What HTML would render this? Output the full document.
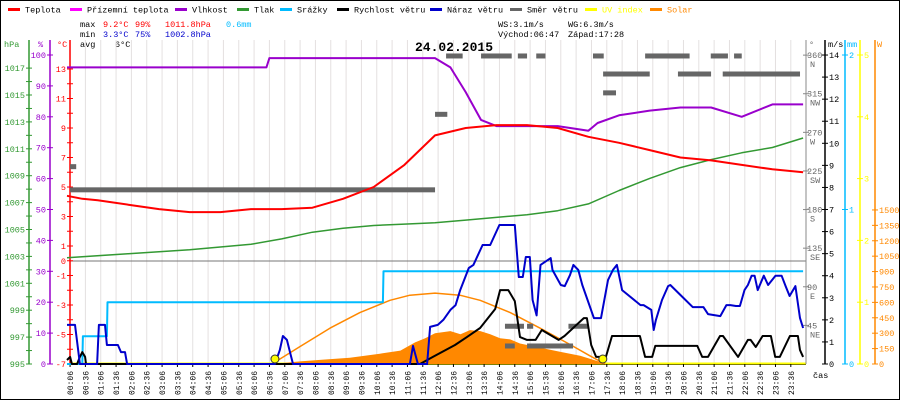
<!DOCTYPE html>
<html><head><meta charset="utf-8"><style>
body{margin:0;background:#fff}
svg{display:block;font-family:"Liberation Mono",monospace;font-size:8.5px}
</style></head><body>
<svg id="c" width="900" height="400" viewBox="0 0 900 400">
<rect x="0.5" y="0.5" width="899" height="399" fill="#fff" stroke="#000"/>
<g id="legend"></g>
<g>
<text x="80" y="27">max</text><text x="103" y="27" fill="#f00">9.2°C</text><text x="135" y="27" fill="#f00">99%</text><text x="165" y="27" fill="#f00">1011.8hPa</text><text x="226" y="27" fill="#0bf">0.6mm</text>
<text x="80" y="37">min</text><text x="103" y="37" fill="#00c">3.3°C</text><text x="135" y="37" fill="#00c">75%</text><text x="165" y="37" fill="#00c">1002.8hPa</text>
<text x="80" y="47">avg</text><text x="115" y="47">6°C</text>
<text x="498" y="27">WS:3.1m/s</text><text x="568" y="27">WG:6.3m/s</text>
<text x="498" y="37">Východ:06:47</text><text x="568" y="37">Západ:17:28</text>
</g>
<text x="415" y="51" font-size="13" font-weight="bold">24.02.2015</text>
<g id="grid"></g><g id="axes"></g><g id="series"></g>
</svg>
<script>
const NS="http://www.w3.org/2000/svg";
const svg=document.getElementById('c');
function mk(tag,attrs,parent){const e=document.createElementNS(NS,tag);for(const k in attrs)e.setAttribute(k,attrs[k]);(parent||svg).appendChild(e);return e;}
// ---- data (hours of day) ----
const tempH=[0,0.5,1,2,3,4,5,6,7,8,9,10,11,12,13,14,15,16,17,18,19,20,21,22,23,24];
const tempV=[4.4,4.2,4.1,3.8,3.5,3.3,3.3,3.5,3.5,3.6,4.2,5.0,6.5,8.5,9.0,9.2,9.2,9.0,8.4,8.0,7.5,7.0,6.8,6.5,6.2,6.0];
const humH=[0,6.5,6.6,12,12.5,13,13.5,14,15,16,17,17.3,18,19,20,21,22,23,24];
const humV=[96,96,99,99,96,88,79,77,77,77,75.5,78,80.5,82,83,83,80,84,84];
const presH=[0,2,4,6,7,8,9,10,11,12,13,14,15,16,17,18,19,20,21,22,23,24];
const presV=[1002.9,1003.2,1003.5,1003.9,1004.3,1004.8,1005.1,1005.3,1005.4,1005.5,1005.7,1005.9,1006.1,1006.4,1006.9,1007.9,1008.8,1009.6,1010.2,1010.7,1011.1,1011.8];
const rainH=[0,0.5,0.52,1.3,1.32,10.3,10.32,24];
const rainV=[0,0,0.18,0.18,0.4,0.4,0.6,0.6];
const gustH=[0,0.26,0.42,0.98,1.04,1.24,1.30,1.66,1.76,1.89,1.96,6.78,6.94,7.04,7.17,7.37,11.18,11.28,11.44,11.74,11.84,12.09,12.27,12.5,12.67,12.82,13.1,13.25,13.55,13.8,14.1,14.6,14.73,14.86,14.96,15.09,15.18,15.31,15.44,15.77,15.83,16.1,16.23,16.4,16.51,16.67,16.8,17.18,17.41,17.64,17.8,17.93,18.1,18.7,18.8,19.05,19.13,19.2,19.4,19.6,19.67,20.1,20.4,20.75,20.9,21.3,21.5,21.63,21.81,21.94,22.09,22.2,22.32,22.42,22.52,22.72,22.86,23.1,23.3,23.43,23.56,23.75,23.9,24];
const gustV=[1.77,1.77,0,0,1.77,1.77,0.86,0.86,0.54,0.54,0,0,0.63,1.27,1.09,0,0,0.82,0,0,1.68,1.77,2.0,2.45,2.67,3.35,4.35,4.49,5.39,5.39,6.3,6.3,3.94,3.94,4.85,4.85,2.9,2.2,4.49,4.8,4.26,3.58,3.53,4.03,4.49,4.26,3.58,2.08,2.08,3.8,4.26,4.49,3.35,2.67,2.67,2.45,1.54,2.0,2.9,3.53,3.58,2.99,2.58,2.58,2.26,2.17,2.67,2.67,2.63,2.63,3.35,3.58,4.0,4.0,3.35,4.0,3.58,4.0,4.0,3.53,3.08,3.53,2.08,1.63];
const windH=[0,0.1,0.16,0.33,0.42,0.5,0.59,0.62,11.51,11.93,12.65,13.04,13.47,13.96,14.12,14.39,14.6,14.77,15.0,15.28,15.48,16.03,16.22,16.85,16.95,17.09,17.25,17.57,17.77,18.68,18.85,19.08,19.18,20.55,20.71,20.9,21.29,21.39,21.88,22.2,22.29,22.46,22.68,22.95,23.09,23.24,23.57,23.83,23.9,24];
const windV=[0.18,0.32,0,0,0.32,0.54,0.32,0,0,0.32,0.86,1.22,1.63,2.49,3.35,3.35,2.85,1.22,1.09,1.09,1.54,1.09,1.27,2.08,2.08,0.86,0.32,0.32,1.27,1.27,0.32,0.32,0.82,0.82,0.32,0.32,1.27,1.27,0.32,1.09,1.09,0.77,1.27,1.27,0.32,0.32,1.27,1.27,0.63,0.32];
const solarH=[6.68,7.6,8.25,9.22,10.2,10.87,11.35,11.68,12.0,12.5,12.83,13.14,13.48,13.8,14.12,14.45,14.77,15.42,16.07,16.73,17.38,17.54];
const solarV=[0,25,40,60,100,130,210,250,300,320,290,330,320,290,250,240,200,160,120,80,20,0];
const theoH=[6.68,7.6,8.58,9.55,10.53,11.18,12.0,12.81,13.47,14.45,15.42,16.4,17.05,17.54];
const theoV=[0,170,350,500,620,670,690,670,620,500,350,190,80,0];
const dirStart=[0.1,0.1,12.0,12.36,13.5,14.7,15.3,17.15,18.85,19.1,20.99,21.75,17.48,19.92,21.38,22.2,17.48,14.28,14.63,14.28,15.0,15.0,16.35];
const dirEnd=[0.3,12.0,12.4,12.9,14.5,15.0,15.6,17.5,20.0,20.3,21.55,22.0,19.0,21.0,22.75,23.9,17.9,14.7,14.9,14.6,16.5,15.2,17.0];
const dirV=[230,203,291,359,359,359,359,359,359,359,359,359,338,338,338,338,316,44,44,21,21,44,44];
const timeLabels=[];for(let h=0;h<24;h++){for(const m of ['06','36'])timeLabels.push((h<10?'0':'')+h+':'+m);}
// ---- scales ----
const X=h=>67+h*30.67;
const yT=t=>364-(t+7)*14.75, yH=v=>364-v*3.09, yP=p=>364-(p-995)*13.45, yMS=v=>364-v*22.07, yMM=v=>364-v*154.5, yUV=v=>364-v*61.8, yW=v=>364-v*0.1027, yDeg=v=>364-v*0.858;
const G=document.getElementById('grid'),A=document.getElementById('axes'),S=document.getElementById('series');
// legend
const leg=[['Teplota','#f00',8,'#000'],['Přízemní teplota','#f0f',70,'#000'],['Vlhkost','#90c',175,'#000'],['Tlak','#393',237,'#000'],['Srážky','#0bf',280,'#000'],['Rychlost větru','#000',337,'#000'],['Náraz větru','#00c',430,'#000'],['Směr větru','#666',510,'#000'],['UV index','#ff0',585,'#ff0'],['Solar','#f80',650,'#f80']];
leg.forEach(l=>{const g=mk('g',{},document.getElementById('legend'));


mk('rect',{x:l[2],y:8,width:12,height:3,fill:l[1]},g);mk('text',{x:l[2]+17,y:12.5,fill:l[3]},g).textContent=l[0];});
// grid + time labels
timeLabels.forEach((t,i)=>{const x=X(0.1+i*0.5);
const gl=mk('line',{x1:x,x2:x,y1:40,y2:364,stroke:'#e4e0e0'},G);

mk('line',{x1:x,x2:x,y1:364,y2:367,stroke:'#000'},A);
const tx=mk('text',{transform:`translate(${x+3},395) rotate(-90)`,'font-size':8},A);tx.textContent=t;
});
mk('line',{x1:70,x2:806,y1:261,y2:261,stroke:'#777'},G);
mk('line',{x1:70,x2:806,y1:364.5,y2:364.5,stroke:'#000'},G);
mk('line',{x1:70,x2:806,y1:363.5,y2:363.5,stroke:'#ff0','stroke-width':2},G);
// axes
function axis(x,y0,y1,col,ticks,yf,side,hdr,hx){mk('line',{x1:x,x2:x,y1:y0,y2:y1,stroke:col,'stroke-width':1.5},A);
ticks.forEach(t=>{const y=yf(t[0]);mk('line',{x1:x-3,x2:x+3,y1:y,y2:y,stroke:col},A);
if(t[1]!==''){const e=mk('text',{x:side<0?x-4:x+4,y:y+3,fill:col,'text-anchor':side<0?'end':'start'},A);e.textContent=t[1];}});
if(hdr){const h=mk('text',{x:hx,y:47,fill:col},A);h.textContent=hdr;}}
let tk=[];for(let p=995;p<=1017;p++)tk.push([p,p%2?String(p):'']);axis(29,40,364,'#393',tk,yP,-1,'hPa',4);
tk=[];for(let v=0;v<=100;v+=10)tk.push([v,String(v)]);axis(50,40,364,'#90c',tk,yH,-1,'%',38);
tk=[];for(let v=-7;v<=13;v++)tk.push([v,(v%2||v==0)?String(v):'']);axis(70,40,364,'#f00',tk,yT,-1,'°C',57);
tk=[];for(let v=0;v<=14;v++)tk.push([v,String(v)]);axis(825,40,364,'#000',tk,yMS,1,'m/s',828);
axis(845,40,364,'#0bf',[[0,'0'],[1,'1'],[2,'2']],yMM,1,'mm',847);
tk=[];for(let v=0;v<=5;v++)tk.push([v,String(v)]);axis(860,40,364,'#ff0',tk,yUV,1,'',0);
tk=[];for(let v=0;v<=1500;v+=150)tk.push([v,String(v)]);axis(875,40,364,'#f80',tk,yW,1,'W',877);
mk('line',{x1:806,x2:806,y1:40,y2:364,stroke:'#888'},A);
[[360,'N'],[315,'NW'],[270,'W'],[225,'SW'],[180,'S'],[135,'SE'],[90,'E'],[45,'NE']].forEach(d=>{const y=yDeg(d[0]);
mk('line',{x1:803,x2:809,y1:y,y2:y,stroke:'#888'},A);
mk('text',{x:807,y:y+3,fill:'#666'},A).textContent=String(d[0]);mk('text',{x:810,y:y+12,fill:'#666'},A).textContent=d[1];});
mk('text',{x:809,y:47,fill:'#666'},A).textContent='°';
mk('text',{x:813,y:378},A).textContent='čas';
// series
function line(hs,vs,yf,col,w,name){let d='';hs.forEach((h,i)=>{d+=(i?'L':'M')+X(h).toFixed(1)+','+yf(vs[i]).toFixed(1);});
const p=mk('path',{d,fill:'none',stroke:col,'stroke-width':w,'stroke-linejoin':'round'},S);
return p;}
let sd='M'+X(solarH[0])+',364';solarH.forEach((h,i)=>{sd+='L'+X(h).toFixed(1)+','+yW(solarV[i]).toFixed(1);});sd+='L'+X(solarH[solarH.length-1])+',364Z';
const sa=mk('path',{d:sd,fill:'#f80'},S);


line(theoH,theoV,yW,'#f80',1.5,'solar-theoretical-line');
dirV.forEach((v,i)=>{const r=mk('rect',{x:X(dirStart[i]),y:yDeg(v)-2.5,width:X(dirEnd[i])-X(dirStart[i]),height:5,fill:'#666'},S);

});
line(rainH,rainV,yMM,'#0bf',2,'rain-line');
line(presH,presV,yP,'#393',1.5,'pressure-line');
line(humH,humV,yH,'#90c',2,'humidity-line');
line(tempH,tempV,yT,'#f00',2,'temperature-line');
line(windH,windV,yMS,'#000',2,'wind-speed-line');
line(gustH,gustV,yMS,'#00c',2,'wind-gust-line');
[6.78,17.47].forEach(h=>{const c=mk('circle',{cx:X(h),cy:359,r:4,fill:'#ff0',stroke:'#333'},S);

});
</script>
</body></html>
